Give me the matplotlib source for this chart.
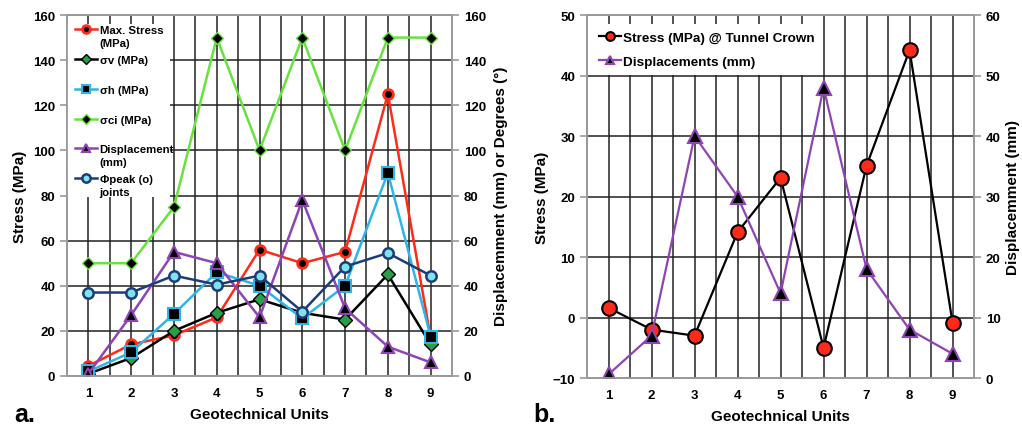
import matplotlib
matplotlib.use("Agg")
import matplotlib.pyplot as plt
from matplotlib.ticker import MultipleLocator
from matplotlib.patches import Rectangle

plt.rcParams['font.family'] = ['Liberation Sans', 'DejaVu Sans']
plt.rcParams['font.weight'] = 'bold'

units = [1, 2, 3, 4, 5, 6, 7, 8, 9]

# Panel a: stresses (left axis, MPa)
max_stress = [4.5, 14, 18, 26, 56, 50, 55, 125, 17]
sigma_v = [1, 8, 20, 28, 34, 28, 25, 45, 14]
sigma_h = [2, 10.5, 27.5, 46, 40, 25.5, 40, 90, 17.5]
sigma_ci = [50, 50, 75, 150, 100, 150, 100, 150, 150]
# Panel a: right axis (mm or degrees)
displacement_a = [1, 27, 55, 50, 26, 78, 30, 13, 6]
phi_peak = [37, 37, 44.5, 40.5, 44.5, 28.5, 48.5, 54.5, 44.5]

# Panel b
crown_stress = [1.6, -2.0, -3.0, 14.1, 23.1, -5.0, 25.1, 44.2, -0.9]
displacement_b = [0.6, 7, 40, 30, 14, 48, 18, 8, 4]

yticks_a = [0, 20, 40, 60, 80, 100, 120, 140, 160]
yticks_b_left = [-10, 0, 10, 20, 30, 40, 50]
yticks_b_right = [0, 10, 20, 30, 40, 50, 60]

RED = '#ff2a17'
GREEN_LINE = '#66e33f'
BLUE = '#2fb4ea'
PURPLE = '#8e44b5'
NAVY = '#1c3d78'
GRID = '#222222'
SPINE = '#9a9a9a'
TICK_FS = 9.5
LABEL_FS = 11

fig = plt.figure(figsize=(10.22, 4.27), dpi=100)


def style_axes(ax, ax2):
    ax.set_axisbelow(True)
    ax.xaxis.set_major_locator(MultipleLocator(1))
    ax.xaxis.set_minor_locator(MultipleLocator(0.5))
    ax.grid(True, which='major', axis='y', color=GRID, lw=1.1)
    ax.grid(True, which='both', axis='x', color=GRID, lw=1.1)
    ax.tick_params(axis='x', which='both', length=0, labelsize=TICK_FS, pad=8)
    ax.tick_params(axis='y', length=5, color=SPINE, labelsize=TICK_FS, width=1.2)
    ax2.tick_params(axis='y', length=5, color=SPINE, labelsize=TICK_FS, width=1.2)
    for a in (ax, ax2):
        for s in a.spines.values():
            s.set_color(SPINE)
            s.set_linewidth(1.3)
    ax.set_xlim(0.5, 9.5)
    ax.set_xlabel('Geotechnical Units', fontsize=LABEL_FS, fontweight='bold', labelpad=6)


# ---------------- panel a ----------------
axa = fig.add_axes([0.0656, 0.1171, 0.3767, 0.8454])
axa2 = axa.twinx()
style_axes(axa, axa2)
axa.set_ylim(0, 160)
axa2.set_ylim(0, 160)
axa.set_yticks(yticks_a)
axa2.set_yticks(yticks_a)
axa.set_ylabel('Stress (MPa)', fontsize=LABEL_FS, fontweight='bold', labelpad=4)
axa2.set_ylabel('Displacemment (mm) or Degrees (°)', fontsize=LABEL_FS,
                fontweight='bold', labelpad=6)

h1, = axa.plot(units, max_stress, '-o', color=RED, lw=1.8, ms=7,
               mfc='black', mec=RED, mew=2, label='Max. Stress')
h2, = axa.plot(units, sigma_v, '-D', color='black', lw=1.8, ms=7,
               mfc='#2a9d48', mec='black', mew=1.0, label='σv (MPa)')
h3, = axa.plot(units, sigma_h, '-s', color=BLUE, lw=1.8, ms=8,
               mfc='black', mec=BLUE, mew=1.5, label='σh (MPa)')
h4, = axa.plot(units, sigma_ci, '-D', color=GREEN_LINE, lw=1.8, ms=6,
               mfc='black', mec=GREEN_LINE, mew=1.0, label='σci (MPa)')
h5, = axa2.plot(units, displacement_a, '-^', color=PURPLE, lw=1.8, ms=8,
                mfc='black', mec=PURPLE, mew=1.5, label='Displacement')
h6, = axa2.plot(units, phi_peak, '-o', color=NAVY, lw=1.8, ms=7.5,
                mfc='#7fe3ea', mec=NAVY, mew=1.8, label='Φpeak (o)')

# white panel behind the legend block (hides the grid there)
axa2.add_patch(Rectangle((0, 0.497), 0.268, 0.478, transform=axa2.transAxes,
                         facecolor='white', edgecolor='none', zorder=1))

leg_a = axa2.legend(handles=[h1, h2, h3, h4, h5, h6], loc='upper left',
                    bbox_to_anchor=(0.021, 0.973), frameon=False,
                    prop={'weight': 'bold', 'size': 8.2}, handlelength=1.95,
                    handletextpad=0.2, labelspacing=1.75, borderpad=0.0,
                    borderaxespad=0.0, markerscale=0.8)
leg_a.set_zorder(5)

# second lines of the two-line legend entries
for idx, extra in [(0, '(MPa)'), (4, '(mm)'), (5, 'joints')]:
    axa2.annotate(extra, xy=(0, 0), xycoords=leg_a.get_texts()[idx],
                  xytext=(0, -2.0), textcoords='offset points', va='top', ha='left',
                  fontsize=8.2, fontweight='bold', zorder=6)

fig.text(0.014, 0.012, 'a.', fontsize=18, fontweight='bold')

# ---------------- panel b ----------------
axb = fig.add_axes([0.5744, 0.1124, 0.3787, 0.8501])
axb2 = axb.twinx()
style_axes(axb, axb2)
axb.set_ylim(-10, 50)
axb2.set_ylim(0, 60)
axb.set_yticks(yticks_b_left)
axb2.set_yticks(yticks_b_right)
axb.set_ylabel('Stress (MPa)', fontsize=LABEL_FS, fontweight='bold', labelpad=3)
axb2.set_ylabel('Displacemment (mm)', fontsize=LABEL_FS, fontweight='bold', labelpad=4)

g1, = axb.plot(units, crown_stress, '-o', color='black', lw=1.6, ms=10.5,
               mfc=RED, mec='black', mew=1.5, label='Stress (MPa) @ Tunnel Crown')
g2, = axb2.plot(units, displacement_b, '-^', color=PURPLE, lw=1.6, ms=10.5,
                mfc='black', mec=PURPLE, mew=1.5, label='Displacements (mm)')
axb2.legend(handles=[g1, g2], loc='upper left', bbox_to_anchor=(0.012, 0.975),
            frameon=True, fancybox=False, edgecolor='none', facecolor='white',
            framealpha=1, prop={'weight': 'bold', 'size': 9.7}, handlelength=1.6,
            handletextpad=0.15, labelspacing=0.84, borderpad=0.55,
            borderaxespad=0.0, markerscale=0.6)

fig.text(0.522, 0.012, 'b.', fontsize=18, fontweight='bold')

fig.savefig('out.png', dpi=100)
